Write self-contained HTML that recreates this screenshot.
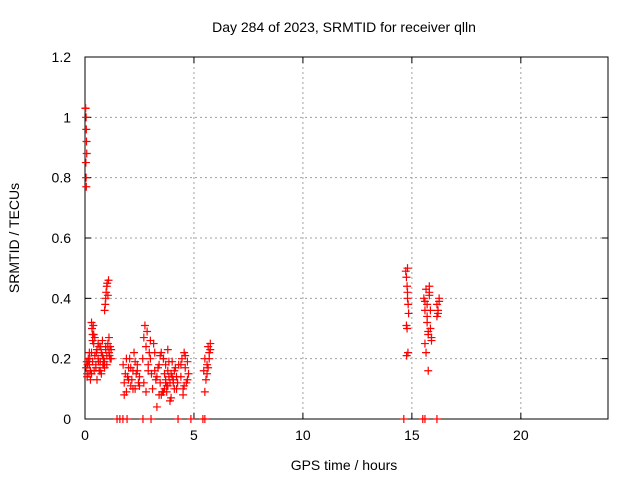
<!DOCTYPE html>
<html><head><meta charset="utf-8"><style>
body{margin:0;background:#fff}
svg{display:block;font-family:"Liberation Sans",sans-serif}
</style></head><body>
<svg id="chart" width="640" height="480">
<text x="344" y="32" font-size="14" text-anchor="middle">Day 284 of 2023, SRMTID for receiver qlln</text>
<g id="grid"></g><g id="axes"></g><g id="marks"></g>
<text x="344" y="470" font-size="14" text-anchor="middle">GPS time / hours</text>
<text transform="translate(19,238) rotate(-90)" font-size="14" text-anchor="middle">SRMTID / TECUs</text>
</svg>
<script>
const xTicks=[0,5,10,15,20];
const yTicks=[0,0.2,0.4,0.6,0.8,1,1.2];
const yLabels=["0","0.2","0.4","0.6","0.8","1","1.2"];
const times=[0.02,0.03,0.05,0.06,0.07,0.08,0.04,0.05,0.06,
0.05,0.1,0.15,0.2,0.25,0.3,0.35,0.4,0.45,0.5,0.55,0.6,0.65,0.7,0.75,0.8,0.85,0.9,0.95,1.0,1.05,1.1,1.15,1.2,
0.1,0.2,0.3,0.4,0.5,0.6,0.7,0.8,0.9,1.0,1.1,1.2,0.15,0.35,0.55,0.75,0.95,1.15,0.25,0.45,0.65,0.85,1.05,0.3,0.32,0.35,0.38,
0.12,0.22,0.42,0.52,0.62,0.72,0.82,1.12,0.08,0.18,
0.9,0.93,0.95,0.97,1.0,1.02,1.05,1.08,
1.75,1.8,1.85,1.9,1.95,2.0,2.05,2.1,2.15,2.2,2.25,2.3,2.35,2.4,2.45,2.5,1.8,1.9,2.0,2.1,2.2,2.3,2.4,2.5,
2.65,2.7,2.75,2.8,2.85,2.9,2.95,3.0,3.05,2.7,2.8,2.9,3.0,
3.1,3.2,3.3,3.4,3.5,3.6,3.7,3.8,3.9,4.0,4.1,4.2,4.3,3.15,3.25,3.35,3.45,3.55,3.65,3.75,3.85,3.95,4.05,4.15,4.25,3.2,3.4,3.6,3.8,4.0,4.2,3.3,3.5,3.7,3.9,4.1,3.6,3.7,3.8,
3.45,3.65,3.85,4.05,3.75,3.95,
4.4,4.45,4.5,4.55,4.6,4.65,4.7,4.75,4.5,4.6,4.7,4.4,4.55,
5.45,5.5,5.55,5.6,5.65,5.7,5.75,5.5,5.6,5.7,5.65,5.75,
14.72,14.75,14.78,14.8,14.83,14.85,14.75,14.8,14.78,14.82,14.76,14.8,
15.55,15.6,15.65,15.7,15.75,15.8,15.85,15.9,15.6,15.7,15.8,15.65,15.75,15.85,15.7,15.8,15.6,15.9,15.75,
16.15,16.2,16.25,16.2,16.15,16.25,
1.47,1.6,1.74,1.93,2.66,3.03,4.27,4.86,5.41,5.5,14.63,15.5,15.6,16.15];
const values=[1.03,1.03,1.0,0.96,0.92,0.88,0.85,0.8,0.77,
0.17,0.15,0.2,0.18,0.16,0.22,0.19,0.25,0.21,0.18,0.23,0.2,0.24,0.19,0.22,0.26,0.2,0.17,0.23,0.21,0.25,0.22,0.24,0.2,
0.14,0.22,0.15,0.28,0.17,0.25,0.16,0.21,0.19,0.18,0.27,0.23,0.19,0.26,0.13,0.15,0.24,0.2,0.13,0.27,0.16,0.18,0.24,0.32,0.3,0.28,0.31,
0.18,0.2,0.16,0.22,0.19,0.24,0.18,0.21,0.19,0.15,
0.36,0.38,0.4,0.42,0.44,0.45,0.41,0.46,
0.18,0.12,0.15,0.09,0.14,0.17,0.2,0.11,0.13,0.16,0.22,0.1,0.15,0.18,0.12,0.14,0.08,0.2,0.13,0.17,0.1,0.19,0.16,0.11,
0.2,0.27,0.31,0.24,0.29,0.18,0.22,0.26,0.15,0.12,0.09,0.16,0.2,
0.1,0.22,0.14,0.18,0.08,0.2,0.12,0.16,0.06,0.19,0.1,0.14,0.18,0.25,0.13,0.17,0.21,0.09,0.15,0.11,0.19,0.07,0.13,0.17,0.12,0.16,0.08,0.2,0.11,0.14,0.1,0.04,0.22,0.18,0.12,0.16,0.09,0.13,0.23,
0.12,0.1,0.14,0.12,0.09,0.15,
0.14,0.2,0.1,0.22,0.17,0.12,0.19,0.15,0.08,0.21,0.13,0.18,0.11,
0.16,0.2,0.13,0.18,0.24,0.22,0.25,0.09,0.15,0.2,0.17,0.23,
0.49,0.47,0.44,0.42,0.38,0.35,0.31,0.5,0.3,0.22,0.21,0.4,
0.4,0.36,0.43,0.38,0.29,0.42,0.3,0.27,0.25,0.34,0.41,0.22,0.28,0.36,0.32,0.44,0.39,0.26,0.16,
0.38,0.35,0.4,0.36,0.34,0.39,
0,0,0,0,0,0,0,0,0,0,0,0,0,0];
const X0=85,X1=608,Y0=419,Y1=57,NS="http://www.w3.org/2000/svg";
const xs=v=>X0+v/24*(X1-X0), ys=v=>Y0-v/1.2*(Y0-Y1);
function mk(t,a,p){const e=document.createElementNS(NS,t);for(const k in a)e.setAttribute(k,a[k]);p.appendChild(e);return e;}
const grid=document.getElementById('grid'),axes=document.getElementById('axes'),marks=document.getElementById('marks');
xTicks.forEach((t,i)=>{const x=xs(t);
 if(t>0){const g=mk('line',{x1:x,x2:x,y1:Y0,y2:Y1,stroke:'#a0a0a0','stroke-dasharray':'2,3'},grid);
 }
 mk('line',{x1:x,x2:x,y1:Y0,y2:Y0-6,stroke:'#000'},axes);mk('line',{x1:x,x2:x,y1:Y1,y2:Y1+6,stroke:'#000'},axes);
 const l=mk('text',{x:x,y:Y0+21,'font-size':14,'text-anchor':'middle'},axes);l.textContent=t;
 });
yTicks.forEach((t,i)=>{const y=ys(t);
 if(t>0&&t<1.2){const g=mk('line',{x1:X0,x2:X1,y1:y,y2:y,stroke:'#a0a0a0','stroke-dasharray':'2,3'},grid);
 }
 mk('line',{x1:X0,x2:X0+6,y1:y,y2:y,stroke:'#000'},axes);mk('line',{x1:X1,x2:X1-6,y1:y,y2:y,stroke:'#000'},axes);
 const l=mk('text',{x:X0-14,y:y+5,'font-size':14,'text-anchor':'end'},axes);l.textContent=yLabels[i];
 });
const fr=mk('rect',{x:X0,y:Y1,width:X1-X0,height:Y0-Y1,fill:'none',stroke:'#000'},axes);

times.forEach((t,i)=>{const x=xs(t),y=ys(values[i]);
 const p=mk('path',{d:`M${x-4},${y}h8M${x},${y-4}v8`,stroke:'#f00','stroke-width':1.2},marks);
 });
</script>
</body></html>
